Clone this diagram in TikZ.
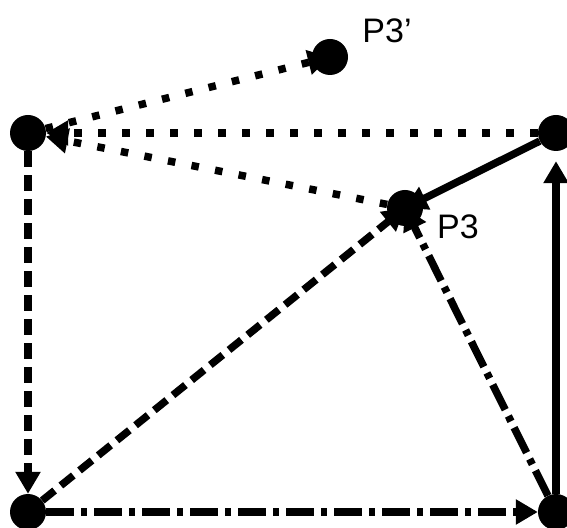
\documentclass[tikz,border=0pt]{standalone}
\usepackage{fontspec}
\setmainfont{Liberation Sans}
\usetikzlibrary{arrows.meta}
\begin{document}
\begin{tikzpicture}[x=1pt, y=1pt,
    vertex/.style={circle, fill=black, inner sep=0pt, minimum size=36pt},
    ptlabel/.style={font=\fontsize{34}{34}\selectfont, inner sep=0pt},
    edge/.style={line width=7.5pt, -{Triangle[length=22pt, width=24pt]}},
    dots/.style={edge, dash pattern=on 7.5pt off 16.5pt},
    dashes/.style={edge, dash pattern=on 16pt off 8pt},
    dashdots/.style={edge, dash pattern=on 28pt off 7pt on 6pt off 7pt}]
  \useasboundingbox (0,0) rectangle (567,527);
  \def\L{28}
  \def\R{556}
  \def\T{394}
  \def\B{15}
  % corners and the two points
  \node[vertex] (tl) at (\L,\T) {};
  \node[vertex] (tr) at (\R,\T) {};
  \node[vertex] (bl) at (\L,\B) {};
  \node[vertex] (br) at (\R,\B) {};
  \node[vertex] (p3) at (405,319) {};
  \node[vertex] (p3b) at (330,470) {};
  \node[ptlabel] at (458,300) {P3};
  \node[ptlabel] at (387,496) {P3’};
  % dotted
  \draw[dots] (tr) -- (tl);
  \draw[dots] (p3) -- (tl);
  \draw[dots] (tl) -- (p3b.center);
  % dashed
  \draw[dashes] (tl) -- (bl);
  \draw[dashes] (bl) -- (p3.center);
  % dash dot
  \draw[dashdots] (bl) -- (br);
  \draw[dashdots] (br) -- (p3.center);
  % solid
  \draw[edge, shorten >=10pt] (br) -- (tr);
  \draw[edge] (tr) -- (p3.center);
\end{tikzpicture}
\end{document}
